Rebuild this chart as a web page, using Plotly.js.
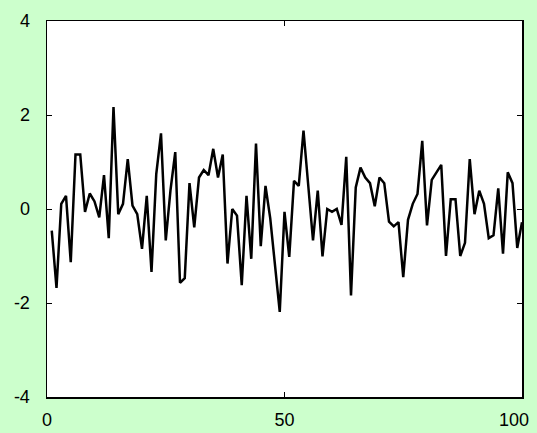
<!DOCTYPE html>
<html>
<head>
<meta charset="utf-8">
<script src="https://cdn.plot.ly/plotly-3.0.1.min.js"></script>
<style>html,body{margin:0;padding:0;background:#ccffcc;}#chart{width:537px;height:433px;}</style>
</head>
<body>
<div id="chart"></div>
<script>
const xValues = Array.from({length: 100}, (_, i) => i + 1);
const yValues = [
  -0.46, -1.68, 0.11, 0.28, -1.13, 1.16, 1.16, -0.06, 0.33, 0.16,
  -0.18, 0.72, -0.62, 2.17, -0.11, 0.11, 1.06, 0.07, -0.11, -0.85,
  0.28, -1.34, 0.74, 1.61, -0.67, 0.40, 1.21, -1.57, -1.47, 0.55,
  -0.39, 0.67, 0.83, 0.72, 1.28, 0.67, 1.16, -1.16, 0.00, -0.14,
  -1.62, 0.28, -1.06, 1.39, -0.79, 0.49, -0.20, -1.20, -2.19, -0.06,
  -1.02, 0.60, 0.49, 1.67, 0.45, -0.67, 0.39, -1.01, 0.00, -0.06,
  0.00, -0.34, 1.11, -1.84, 0.46, 0.88, 0.67, 0.55, 0.06, 0.67,
  0.55, -0.27, -0.37, -0.28, -1.45, -0.23, 0.11, 0.32, 1.45, -0.35,
  0.62, 0.78, 0.94, -1.00, 0.21, 0.21, -1.00, -0.72, 1.06, -0.11,
  0.39, 0.11, -0.62, -0.56, 0.44, -0.95, 0.78, 0.55, -0.83, -0.28
];
const xTicks = [0, 50, 100];
const xTickLabels = ['0', '50', '100'];
const yTicks = [-4, -2, 0, 2, 4];
const yTickLabels = ['-4', '-2', '0', '2', '4'];

const lastIdx = xTicks.length - 1;
// the last x label is drawn as an annotation so it stays inside the window, as in the reference
const xTickText = xTickLabels.map((t, i) => i === lastIdx ? '' : t);

const trace = {
  x: xValues, y: yValues, type: 'scatter', mode: 'lines',
  line: {color: '#000000', width: 2.5}, hoverinfo: 'skip'
};
const font = {family: 'Liberation Sans, Arial, sans-serif', size: 18, color: '#000000'};
const layout = {
  width: 537, height: 433,
  paper_bgcolor: '#ccffcc', plot_bgcolor: '#ffffff',
  margin: {l: 47, r: 15, t: 21, b: 36},
  showlegend: false,
  font: font,
  xaxis: {
    range: [0, 100], tickvals: xTicks, ticktext: xTickText,
    showgrid: false, zeroline: false, showline: true, linecolor: '#000', linewidth: 1.5,
    mirror: 'ticks', ticks: 'inside', ticklen: 5, tickcolor: '#000', tickwidth: 1,
    ticklabelstandoff: 6, tickfont: font
  },
  yaxis: {
    range: [-4, 4], tickvals: yTicks, ticktext: yTickLabels,
    showgrid: false, zeroline: false, showline: true, linecolor: '#000', linewidth: 1.5,
    mirror: 'ticks', ticks: 'inside', ticklen: 5, tickcolor: '#000', tickwidth: 1,
    ticklabelstandoff: 12, ticklabeloverflow: 'allow', tickfont: font
  },
  annotations: [{
    text: xTickLabels[lastIdx], x: xTicks[lastIdx], xref: 'x', y: 0, yref: 'paper',
    xanchor: 'right', yanchor: 'middle', xshift: 9, yshift: -23,
    showarrow: false, font: font
  }]
};
Plotly.newPlot('chart', [trace], layout, {displayModeBar: false, staticPlot: true});
</script>
</body>
</html>
